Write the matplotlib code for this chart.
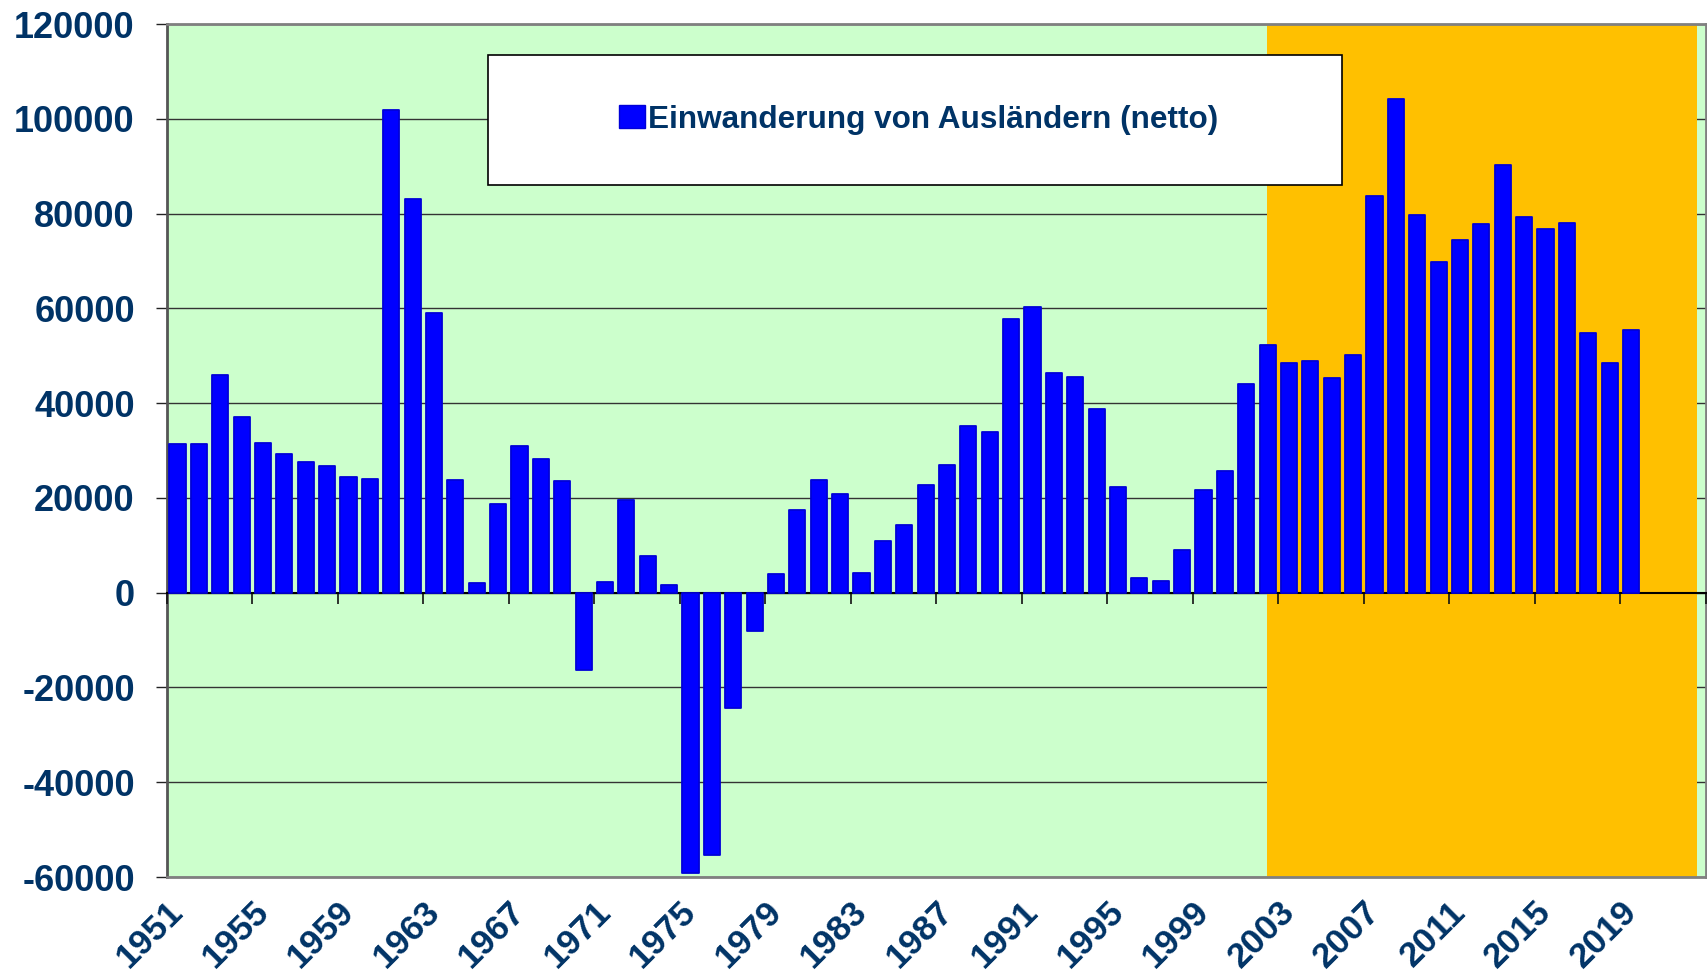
import matplotlib
matplotlib.use("Agg")
import matplotlib.pyplot as plt
import matplotlib.transforms as mtransforms
from matplotlib.patches import Rectangle, Patch

# net immigration of foreigners per year
years = list(range(1951, 2020))
values = [
    31300, 31300, 46000, 37100, 31600, 29300, 27600, 26800, 24400, 24000,
    101800, 83100, 59000, 23800, 2100, 18800, 30900, 28200, 23600, -16300,
    2200, 19500, 7700, 1600, -59100, -55300, -24300, -8100, 3950, 17500,
    23800, 20900, 4200, 11000, 14300, 22700, 26900, 35200, 33800, 57800,
    60300, 46300, 45600, 38700, 22300, 3200, 2500, 9000, 21700, 25600,
    44100, 52200, 48500, 48800, 45300, 50200, 83800, 104100, 79700, 69700,
    74500, 77800, 90200, 79200, 76700, 78000, 54700, 48500, 55500,
]
series_label = "Einwanderung von Ausländern (netto)"
y_ticks = [-60000, -40000, -20000, 0, 20000, 40000, 60000, 80000, 100000, 120000]
x_label_years = years[::4]

NAVY = "#003366"
GREEN = "#CCFFCC"
ORANGE = "#FFC000"
BLUE = "#0000FF"

plt.rcParams["font.family"] = ["Liberation Sans", "DejaVu Sans"]
plt.rcParams["font.weight"] = "bold"

fig = plt.figure(figsize=(17.08, 9.73), dpi=100)
ax = fig.add_axes([0.09766, 0.09866, 0.90105, 0.87667])
ax.set_facecolor(GREEN)

n_slots = 72  # category axis runs 1951..2022
pos = [i + 0.5 for i in range(len(years))]

# highlighted recent period
ax.axvspan(51.45, 71.6, color=ORANGE, lw=0, zorder=1)

ax.bar(pos, values, width=0.75, color=BLUE, edgecolor="#0000D8",
       linewidth=1.3, joinstyle="round", zorder=3)

ax.set_xlim(0, n_slots)
ax.set_ylim(y_ticks[0], y_ticks[-1])

# y axis
ax.set_yticks(y_ticks)
ax.set_yticklabels([str(v) for v in y_ticks])
ax.tick_params(axis="y", direction="out", length=8, width=1, color="#222222",
               labelsize=26, labelcolor=NAVY, pad=15)
ax.yaxis.grid(True, color="#333333", linewidth=1.0)
ax.set_axisbelow(True)

# x labels at the bottom, every 4th year
lab_pos = [years.index(y) + 0.5 for y in x_label_years]
ax.set_xticks(lab_pos)
ax.set_xticklabels([str(y) for y in x_label_years], rotation=45,
                   ha="right", va="top", rotation_mode="anchor")
ax.tick_params(axis="x", length=0, labelsize=25.5, labelcolor=NAVY, pad=13)
shift = mtransforms.ScaledTranslation(-11 / 100, 0, fig.dpi_scale_trans)
for lab in ax.get_xticklabels():
    lab.set_transform(lab.get_transform() + shift)

for s in ax.spines.values():
    s.set_color("#808080")
    s.set_linewidth(2)
ax.spines["left"].set_color("#555555")

# zero line with tick marks at category boundaries
ymin, ymax = ax.get_ylim()
sec = ax.secondary_xaxis((0 - ymin) / (ymax - ymin))
sec.set_zorder(2.5)
sec.set_xticks(list(range(0, n_slots + 1, 4)))
sec.set_xticklabels([])
sec.tick_params(axis="x", direction="out", length=8, width=1.2, color="#111111")
sec.spines["bottom"].set_color("black")
sec.spines["bottom"].set_linewidth(1.5)

# legend box
fig.patches.append(Rectangle((488 / 1708, 1 - 184.7 / 973), (1342 - 488) / 1708,
                             130 / 973, transform=fig.transFigure,
                             facecolor="white", edgecolor="black", lw=1.2,
                             zorder=10))
handle = Patch(facecolor=BLUE, edgecolor="#0000D8", label=series_label)
leg = fig.legend(handles=[handle], loc="center",
                 bbox_to_anchor=((620 + 1218) / 2 / 1708, 1 - 119.7 / 973),
                 frameon=False, fontsize=22.7, handlelength=0.8, handleheight=0.75,
                 handletextpad=0.12, borderpad=0)
for t in leg.get_texts():
    t.set_color(NAVY)
    t.set_fontweight("bold")
leg.set_zorder(11)

fig.savefig("out.png", dpi=100)
